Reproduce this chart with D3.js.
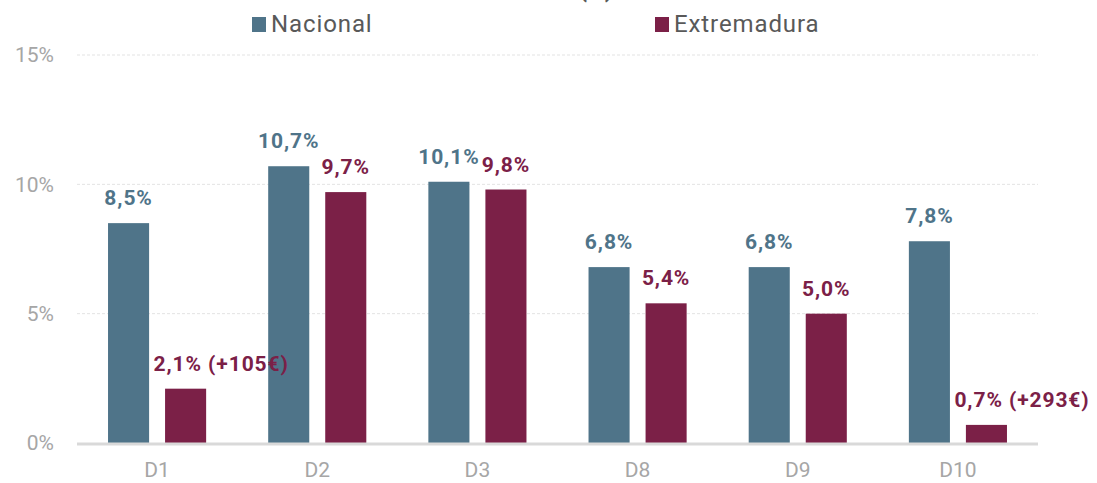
<!DOCTYPE html>
<html><head><meta charset="utf-8">
<script src="https://cdn.jsdelivr.net/npm/d3@7"></script>
<style>body{margin:0;background:#fff}svg{display:block;font-family:Roboto,"Noto Sans",sans-serif}</style>
</head><body><svg id="c" width="1097" height="483"></svg>
<script>
const categories = ["D1","D2","D3","D8","D9","D10"];
const seriesNames = ["Nacional","Extremadura"];
const nacional = [8.5,10.7,10.1,6.8,6.8,7.8];
const extremadura = [2.1,9.7,9.8,5.4,5.0,0.7];
const nacionalLabels = ["8,5%","10,7%","10,1%","6,8%","6,8%","7,8%"];
const extremaduraLabels = ["2,1% (+105€)","9,7%","9,8%","5,4%","5,0%","0,7% (+293€)"];
const yTicks = [0,5,10,15];
const yTickLabels = ["0%","5%","10%","15%"];

const colors = ["#4f7489","#7b2047"];
const FONT = "Roboto,'Noto Sans',sans-serif";
const svg = d3.select("#c");
const L=77,R=1038,T=55,B=443;
const x = d3.scaleBand().domain(categories).range([L,R]).paddingInner(0).paddingOuter(0);
const xs = d3.scaleBand().domain(seriesNames).range([0,x.bandwidth()]).paddingInner(0.28).paddingOuter(0.544);
const y = d3.scaleLinear().domain([0,15]).range([B,T]);

// title fragment (cut at top edge, as in the reference)
svg.append("text").attr("x",596).attr("y",-3).attr("text-anchor","middle")
  .attr("font-size",24).attr("font-weight","bold").attr("fill","#595959").text("(%)");

// gridlines
svg.append("g").selectAll("line").data(yTicks.filter(d=>d>0)).join("line")
  .attr("x1",L).attr("x2",R).attr("y1",d=>y(d)).attr("y2",d=>y(d))
  .attr("stroke","#e3e3e3").attr("stroke-width",1).attr("stroke-dasharray","3,2");

// y axis
const yAxis = d3.axisLeft(y).tickValues(yTicks).tickFormat((d,i)=>yTickLabels[i]).tickSize(0).tickPadding(23);
const gy = svg.append("g").attr("transform",`translate(${L},0)`).call(yAxis);
gy.select(".domain").remove();
gy.selectAll("text").attr("font-size",21).attr("fill","#a6a6a6").attr("font-family",FONT);

const data = [nacional, extremadura];
const labels = [nacionalLabels, extremaduraLabels];
seriesNames.forEach((s,si)=>{
  const g = svg.append("g");
  g.selectAll("rect").data(categories).join("rect")
    .attr("x",c=>x(c)+xs(s)).attr("width",xs.bandwidth())
    .attr("y",(c,i)=>y(data[si][i])).attr("height",(c,i)=>B-y(data[si][i]))
    .attr("fill",colors[si]);
  g.selectAll("text").data(categories).join("text")
    .attr("x",(c,i)=>{const cx=x(c)+xs(s)+xs.bandwidth()/2; return labels[si][i].includes("(")?cx-32:cx;})
    .attr("text-anchor",(c,i)=>labels[si][i].includes("(")?"start":"middle")
    .attr("y",(c,i)=>y(data[si][i])-18)
    .attr("font-size",21).attr("font-weight","bold").attr("letter-spacing",0.9).attr("fill",colors[si])
    .text((c,i)=>labels[si][i]);
});

// baseline
svg.append("line").attr("x1",L).attr("x2",R).attr("y1",B+1).attr("y2",B+1).attr("stroke","#d9d9d9").attr("stroke-width",3);

// x axis
const xAxis = d3.axisBottom(x).tickSize(0).tickPadding(19);
const gx = svg.append("g").attr("transform",`translate(0,${B})`).call(xAxis);
gx.select(".domain").remove();
gx.selectAll("text").attr("font-size",21).attr("fill","#a6a6a6").attr("font-family",FONT);

// legend
const legX = [252,655];
seriesNames.forEach((s,i)=>{
  svg.append("rect").attr("x",legX[i]).attr("y",17).attr("width",14).attr("height",15).attr("fill",colors[i]);
  svg.append("text").attr("x",legX[i]+19).attr("y",32).attr("font-size",24).attr("letter-spacing",0.9).attr("fill","#595959").text(s);
});
</script></body></html>
